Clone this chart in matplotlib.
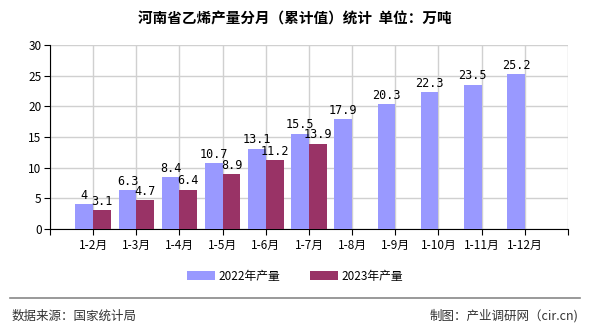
import matplotlib.pyplot as plt
import numpy as np

plt.rcParams['font.family'] = ['Noto Sans CJK SC', 'DejaVu Sans']

# 河南省乙烯产量（累计值），单位：万吨
months = ['1-2月', '1-3月', '1-4月', '1-5月', '1-6月', '1-7月',
          '1-8月', '1-9月', '1-10月', '1-11月', '1-12月']
vals_2022 = [4, 6.3, 8.4, 10.7, 13.1, 15.5, 17.9, 20.3, 22.3, 23.5, 25.2]
vals_2023 = [3.1, 4.7, 6.4, 8.9, 11.2, 13.9]

c22 = '#9999ff'
c23 = '#993366'

fig = plt.figure(figsize=[5.9, 3.3], dpi=100)
ax = fig.add_axes([0.0847, 0.306, 0.878, 0.558])

x = np.arange(1, len(months) + 1)
w = 0.41
b1 = ax.bar(x[:len(vals_2022)] - w / 2, vals_2022, w, color=c22, label='2022年产量', zorder=3)
b2 = ax.bar(x[:len(vals_2023)] + w / 2, vals_2023, w, color=c23, label='2023年产量', zorder=3)

for bars, vals in ((b1, vals_2022), (b2, vals_2023)):
    for r, v in zip(bars, vals):
        ax.text(r.get_x() + r.get_width() / 2, v + 0.4, f'{v:g}', ha='center', va='bottom',
                fontsize=8.5, family='DejaVu Sans Mono', zorder=4)

ax.set_xlim(0, 12)
ax.set_ylim(0, 30)
ax.set_xticks(np.arange(0, 13))
ax.set_xticklabels([''] + months + [''], fontsize=8.5)
ax.set_yticks(range(0, 31, 5))
ax.tick_params(axis='y', labelsize=8.5, length=4, pad=2)
ax.tick_params(axis='x', length=4, pad=3)
ax.grid(True, color='#d0d0d0', linewidth=1, zorder=0)
for s in ('top', 'right'):
    ax.spines[s].set_visible(False)
ax.spines['left'].set_color('black')
ax.spines['bottom'].set_color('black')

fig.text(0.5, 0.945, '河南省乙烯产量分月（累计值）统计  单位：万吨', ha='center', va='center',
         fontsize=10.5, fontweight='bold')

fig.legend(handles=[b1, b2], loc='center', bbox_to_anchor=(0.5, 0.163), ncol=2, frameon=False,
           fontsize=8.5, handlelength=2.4, handleheight=0.8, columnspacing=2.5, handletextpad=0.3)

fig.add_artist(plt.Line2D([0.017, 0.983], [0.097, 0.097], color='#888888', linewidth=1.2))
fig.text(0.02, 0.042, '数据来源：国家统计局', ha='left', va='center', fontsize=9, color='#333333')
fig.text(0.98, 0.042, '制图：产业调研网（cir.cn)', ha='right', va='center', fontsize=9, color='#333333')

fig.savefig('out.png', dpi=100)
